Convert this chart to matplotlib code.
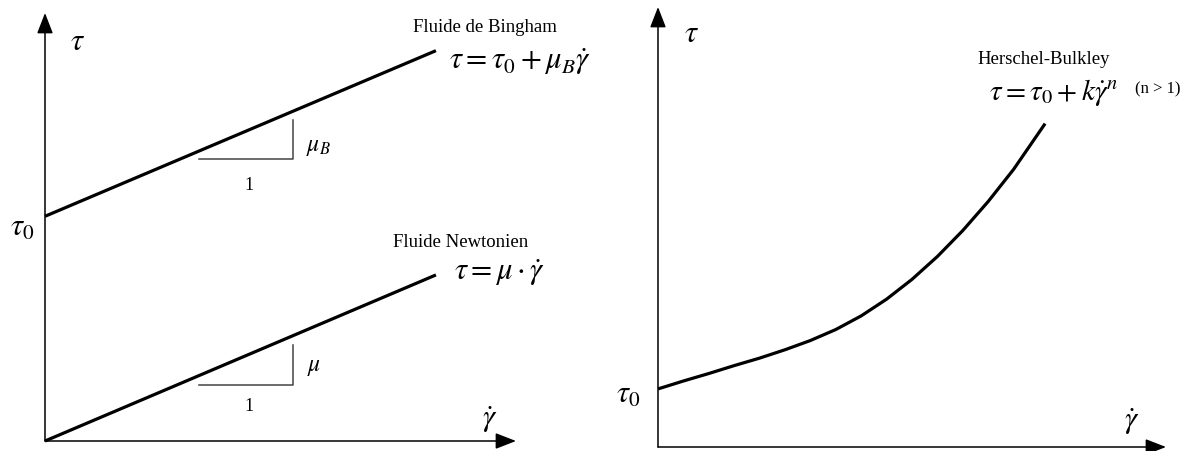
import numpy as np
import matplotlib
matplotlib.use("Agg")
import matplotlib.pyplot as plt

plt.rcParams['font.family'] = ['Liberation Serif', 'DejaVu Serif']
plt.rcParams['mathtext.fontset'] = 'stix'

W, H = 1198, 452

# Données (unités arbitraires, axes 0..10)
gamma_lin = [0.0, 8.3]
bingham_tau = [5.25, 9.12]
newton_tau = [0.0, 3.88]

# Triangles de pente : (x début, x fin, y base, y haut)
tri_bingham = (3.27, 5.26, 6.60, 7.50)
tri_newton = (3.27, 5.26, 1.30, 2.24)

# Courbe de Herschel-Bulkley
hb_gamma = [0.0, 0.5, 1.0, 1.5, 2.0, 2.5, 3.0, 3.5, 4.0, 4.5, 5.0, 5.5, 6.0, 6.5, 7.0, 7.62]
hb_tau = [1.32, 1.50, 1.67, 1.85, 2.02, 2.21, 2.42, 2.67, 2.98, 3.36, 3.81, 4.33, 4.92, 5.58, 6.31, 7.35]

fig = plt.figure(figsize=(W / 100, H / 100), dpi=100)


def px_axes(x0, y_top, x1, y_bot):
    # position d'un axe à partir de coordonnées en pixels
    return fig.add_axes([x0 / W, 1 - y_bot / H, (x1 - x0) / W, (y_bot - y_top) / H])


def txt(x, y, s, size, **kw):
    fig.text(x / W, 1 - y / H, s, fontsize=size, ha='center', va='center', **kw)


def draw_arrows(ax):
    ax.set_xlim(0, 10)
    ax.set_ylim(0, 10)
    ax.axis('off')
    arrow = dict(arrowstyle='-|>,head_length=0.9,head_width=0.35', color='black',
                 lw=1.1, shrinkA=0, shrinkB=0, mutation_scale=14)
    ax.annotate('', xy=(0, 1), xytext=(0, 0), xycoords='axes fraction', arrowprops=arrow)
    ax.annotate('', xy=(1, 0), xytext=(0, 0), xycoords='axes fraction', arrowprops=arrow)


# --- Panneau gauche : Bingham et Newtonien ---
ax1 = px_axes(45, 14, 516, 442)
draw_arrows(ax1)
ax1.plot(gamma_lin, bingham_tau, color='black', lw=2.3, solid_capstyle='butt', clip_on=False)
ax1.plot(gamma_lin, newton_tau, color='black', lw=2.3, solid_capstyle='butt', clip_on=False)
for x0, x1, yb, yt in (tri_bingham, tri_newton):
    ax1.plot([x0, x1, x1], [yb, yb, yt], color='#444444', lw=1.1, clip_on=False)

txt(77, 42, r'$\tau$', 22)
txt(22, 228, r'$\tau_0$', 22)
txt(318, 147, r'$\mu_B$', 17)
txt(249, 186, '1', 13)
txt(314, 368, r'$\mu$', 17)
txt(249, 407, '1', 13)
txt(490, 420, r'$\dot{\gamma}$', 22)
txt(485, 28, 'Fluide de Bingham', 13.5)
txt(520, 62, r'$\tau = \tau_0 + \mu_B\dot{\gamma}$', 22)
txt(461, 243, 'Fluide Newtonien', 13.5)
txt(500, 273, r'$\tau = \mu\cdot\dot{\gamma}$', 22)

# --- Panneau droit : Herschel-Bulkley ---
ax2 = px_axes(658, 8, 1166, 448)
draw_arrows(ax2)
ax2.plot(hb_gamma, hb_tau, color='black', lw=2.3, solid_joinstyle='round',
         solid_capstyle='butt', clip_on=False)

txt(692, 35, r'$\tau$', 22)
txt(628, 395, r'$\tau_0$', 22)
txt(1132, 422, r'$\dot{\gamma}$', 22)
txt(1044, 60, 'Herschel-Bulkley', 13.5)
txt(1054, 92, r'$\tau = \tau_0 + k\dot{\gamma}^n$', 21)
txt(1158, 89, '(n > 1)', 12)

fig.savefig('out.png', dpi=100)
